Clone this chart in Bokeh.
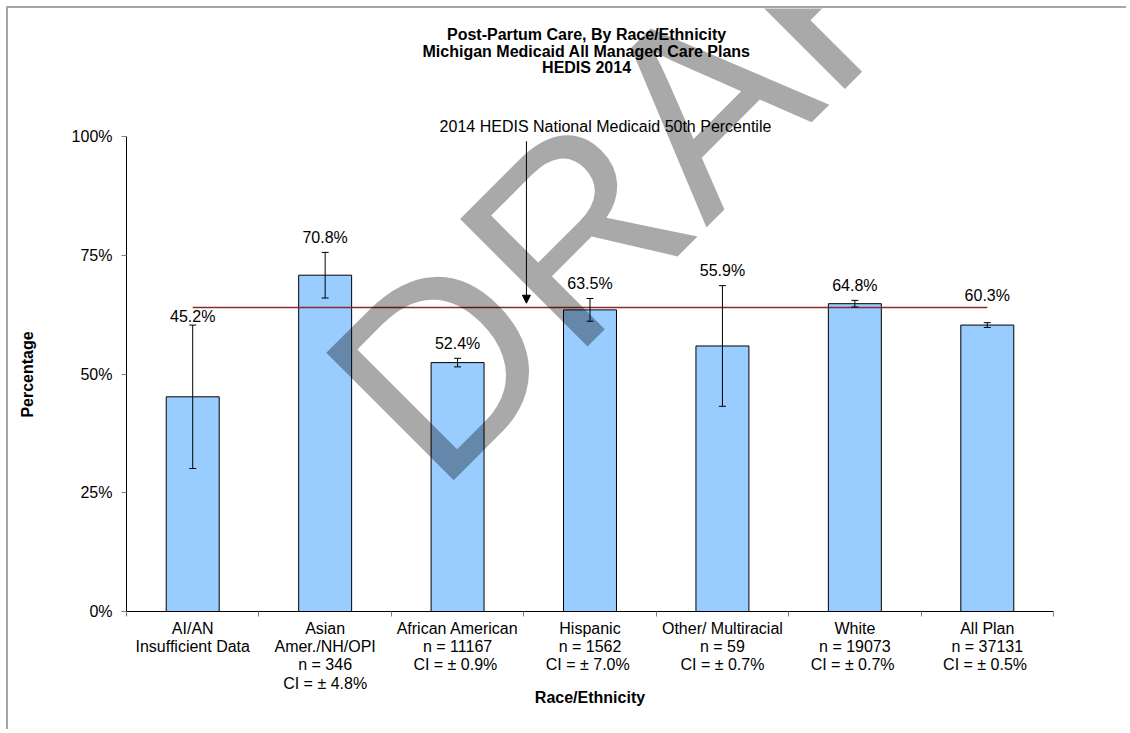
from bokeh.plotting import figure
from bokeh.models import (Range1d, FixedTicker, PrintfTickFormatter, Label, Arrow,
                          NormalHead, Whisker, TeeHead, ColumnDataSource)
from bokeh.embed import file_html
from bokeh.resources import INLINE
from bokeh.core.properties import value

# ---------------- data ----------------
tick_labels = [
    "AI/AN\nInsufficient Data",
    "Asian\nAmer./NH/OPI\nn = 346\nCI = \u00b1 4.8%",
    "African American\nn = 11167\nCI =  \u00b1 0.9%",
    "Hispanic\nn = 1562\nCI =  \u00b1 7.0%",
    "Other/ Multiracial\nn = 59\nCI = \u00b1 0.7%",
    "White\nn = 19073\nCI =  \u00b1 0.7%",
    "All Plan\nn = 37131\nCI =  \u00b1 0.5%",
]
rates = [45.2, 70.8, 52.4, 63.5, 55.9, 64.8, 60.3]
errors = [15.1, 4.8, 0.9, 2.4, 12.7, 0.7, 0.5]
benchmark = 64.0
y_ticks = [0, 25, 50, 75, 100]
title_lines = ["Post-Partum Care, By Race/Ethnicity",
               "Michigan Medicaid All Managed Care Plans",
               "HEDIS 2014"]
benchmark_label = "2014 HEDIS National Medicaid 50th Percentile"
y_title = "Percentage"
x_title = "Race/Ethnicity"

FONT = "Liberation Sans"
n = len(rates)
centers = [i + 0.5 for i in range(n)]
PX = 4.75  # pixels per percentage point on the y axis

# value-label placement: above the error bar, kept clear of the benchmark line
def label_pos(r, e):
    up = r + e
    y = up + 15 / PX
    if abs(y - benchmark) < 9 / PX:
        below = benchmark - 9 / PX
        y = below if below - up >= 8 / PX else benchmark + 12 / PX
    return y

src = ColumnDataSource(dict(
    x=centers,
    top=rates,
    lower=[r - e for r, e in zip(rates, errors)],
    upper=[r + e for r, e in zip(rates, errors)],
    label_y=[label_pos(r, e) for r, e in zip(rates, errors)],
    label=[f"{r:.1f}%" for r in rates],
))

W, H = 1120, 723
p = figure(width=W, height=H, x_range=Range1d(0, n), y_range=Range1d(0, 603 / PX),
           output_backend="svg", toolbar_location=None,
           min_border_left=118, min_border_right=75, min_border_top=0, min_border_bottom=120)
p.margin = (6, 0, 0, 6)
p.styles = {"border-top": "2px solid #a6a6a6", "border-left": "2px solid #a6a6a6"}
p.xgrid.visible = False
p.ygrid.visible = False
p.outline_line_color = None
p.background_fill_color = "white"
p.border_fill_color = "white"

# x axis
xa = p.xaxis[0]
xa.ticker = FixedTicker(ticks=centers, minor_ticks=list(range(n + 1)))
xa.major_label_overrides = {c: t for c, t in zip(centers, tick_labels)}
xa.major_tick_line_color = None
xa.major_tick_out = 0
xa.major_tick_in = 0
xa.minor_tick_line_color = "#808080"
xa.minor_tick_out = 5
xa.minor_tick_in = 0
xa.major_label_standoff = 3
xa.major_label_text_font = FONT
xa.major_label_text_font_size = "16px"
xa.major_label_text_line_height = 1.08
xa.major_label_text_color = "black"
xa.axis_line_color = "black"
xa.axis_label = x_title
xa.axis_label_text_font = FONT
xa.axis_label_text_font_style = "bold"
xa.axis_label_text_font_size = "16px"
xa.axis_label_text_color = "black"
xa.axis_label_standoff = -6

# y axis (label padded with no-break spaces so it centres on the 0-100% span)
ya = p.yaxis[0]
ya.bounds = (0, 100)
ya.ticker = FixedTicker(ticks=y_ticks)
ya.formatter = PrintfTickFormatter(format="%d%%")
ya.major_tick_out = 5
ya.major_tick_in = 0
ya.major_tick_line_color = "#808080"
ya.minor_tick_line_color = None
ya.major_label_standoff = 9
ya.major_label_text_font = FONT
ya.major_label_text_font_size = "16px"
ya.major_label_text_color = "black"
ya.axis_line_color = "black"
ya.axis_label = y_title + "\u00a0" * 29
ya.axis_label_text_font = FONT
ya.axis_label_text_font_style = "bold"
ya.axis_label_text_font_size = "16px"
ya.axis_label_text_color = "black"
ya.axis_label_standoff = 33

# bars
p.vbar(x="x", top="top", width=0.4, source=src, fill_color="#99CCFF", line_color="black", line_width=1)

# error bars
wh = Whisker(source=src, base="x", lower="lower", upper="upper", line_color="black", line_width=1,
             upper_head=TeeHead(size=7, line_color="black", line_width=1),
             lower_head=TeeHead(size=7, line_color="black", line_width=1))
wh.level = "overlay"
p.add_layout(wh)

# value labels
p.text(x="x", y="label_y", text="label", source=src, text_align="center", text_baseline="middle",
       text_font=value(FONT), text_font_size="16px", text_color="black")

# benchmark line
p.line(x=[centers[0], centers[-1]], y=[benchmark, benchmark], line_color="#8B2A2A", line_width=1.5)

# benchmark annotation
p.add_layout(Arrow(end=NormalHead(size=8, fill_color="black", line_color="black"),
                   x_start=3.02, y_start=99, x_end=3.02, y_end=benchmark + 0.9,
                   line_color="black", line_width=1))
p.add_layout(Label(x=3.617, y=102.1, text=benchmark_label, text_align="center", text_baseline="middle",
                   text_font=FONT, text_font_size="16px", text_color="black"))

# title
for line, yy in zip(title_lines, [121.4, 117.9, 114.5]):
    p.add_layout(Label(x=3.474, y=yy, text=line, text_align="center", text_baseline="middle",
                       text_font=FONT, text_font_size="16px", text_font_style="bold", text_color="black"))

# DRAFT watermark
p.add_layout(Label(x=1.873, y=37.9, text="DRAFT", angle=45, angle_units="deg",
                   text_align="left", text_baseline="alphabetic",
                   text_font=FONT, text_font_size="262px", text_color="black", text_alpha=0.337))

open("out.html", "w").write(file_html(p, INLINE))
